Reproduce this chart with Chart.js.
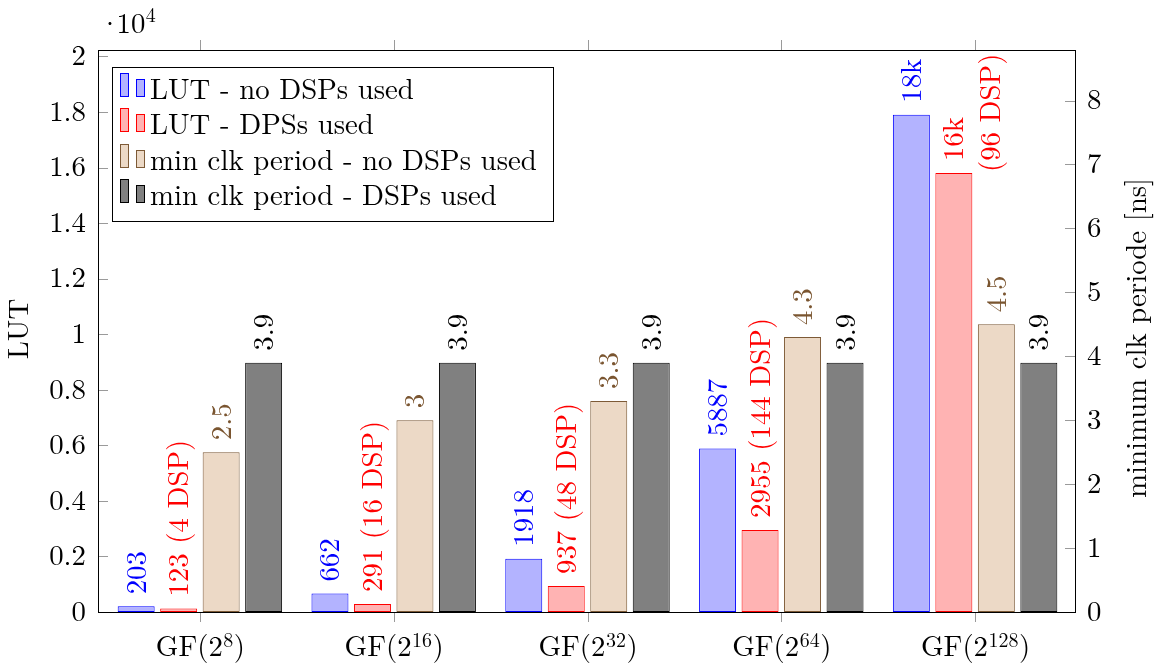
<!DOCTYPE html>
<html>
<head>
<meta charset="utf-8">
<script src="https://cdn.jsdelivr.net/npm/chart.js@4.4.1/dist/chart.umd.min.js"></script>
<style>
  html, body { margin: 0; padding: 0; background: #ffffff; }
  #wrap { width: 1154px; height: 668px; }
</style>
</head>
<body>
<div id="wrap"><canvas id="c" width="1154" height="668"></canvas></div>
<script>
// Field sizes (exponent of GF(2^n))
const fieldExponents = ['8', '16', '32', '64', '128'];

// LUT usage
const lutNoDsp = [203, 662, 1918, 5887, 17900];
const lutDsp = [123, 291, 937, 2955, 15800];
const dspCount = [4, 16, 48, 144, 96];

// Minimum clock period [ns]
const clkNoDsp = [2.5, 3, 3.3, 4.3, 4.5];
const clkDsp = [3.9, 3.9, 3.9, 3.9, 3.9];

// Axis ticks
const lutTicks = [0, 0.2, 0.4, 0.6, 0.8, 1, 1.2, 1.4, 1.6, 1.8, 2];
const clkTicks = [0, 1, 2, 3, 4, 5, 6, 7, 8];

const seriesNames = [
  'LUT - no DSPs used',
  'LUT - DPSs used',
  'min clk period - no DSPs used',
  'min clk period - DSPs used'
];

const FONT = '"Latin Modern Roman", "Liberation Serif", serif';
const FS = 28.8;
const SUP = 20;

const categories = fieldExponents.map(e => 'GF(2^' + e + ')');

function lutLabel(v) {
  return v >= 10000 ? Math.round(v / 1000) + 'k' : String(v);
}

const labelText = [
  lutNoDsp.map(v => [lutLabel(v)]),
  lutDsp.map((v, i) => v >= 10000
    ? [lutLabel(v), '(' + dspCount[i] + ' DSP)']
    : [lutLabel(v) + ' (' + dspCount[i] + ' DSP)']),
  clkNoDsp.map(v => [String(v)]),
  clkDsp.map(v => [String(v)])
];

const styles = [
  { fill: '#b3b3ff', border: '#0000ff', text: '#0000ff' },
  { fill: '#ffb3b3', border: '#ff0000', text: '#ff0000' },
  { fill: '#ecd9c6', border: '#7d5a36', text: '#7a5530' },
  { fill: '#808080', border: '#000000', text: '#000000' }
];

// frame sits a little outside the scale area (x limits are enlarged)
const FRAME_LEFT = 98, FRAME_RIGHT = 1075;

// Rotated value labels above each bar
const valueLabels = {
  id: 'valueLabels',
  afterDatasetsDraw(chart) {
    const ctx = chart.ctx;
    ctx.save();
    ctx.font = FS + 'px ' + FONT;
    chart.data.datasets.forEach((ds, di) => {
      const meta = chart.getDatasetMeta(di);
      meta.data.forEach((bar, i) => {
        const lines = labelText[di][i];
        ctx.fillStyle = styles[di].text;
        lines.forEach((line, li) => {
          ctx.save();
          ctx.translate(bar.x, bar.y - 12);
          ctx.rotate(-Math.PI / 2);
          ctx.textAlign = 'left';
          ctx.textBaseline = 'alphabetic';
          const shift = li === 0 ? 0 : -11;
          ctx.fillText(line, shift, 9.5 + li * 36.5);
          ctx.restore();
        });
      });
    });
    ctx.restore();
  }
};

// Axis frame, tick marks, titles, category labels and legend
const decorations = {
  id: 'decorations',
  afterDraw(chart) {
    const ctx = chart.ctx;
    const a = chart.chartArea;
    const ys = chart.scales.y, y1 = chart.scales.y1, xs = chart.scales.x;
    const L = FRAME_LEFT, R = FRAME_RIGHT;
    ctx.save();

    // tick marks
    ctx.strokeStyle = '#9a9a9a';
    ctx.lineWidth = 1;
    ctx.beginPath();
    lutTicks.forEach(v => {
      const p = Math.round(ys.getPixelForValue(v * 10000)) + 0.5;
      ctx.moveTo(L, p); ctx.lineTo(L + 10, p);
    });
    clkTicks.forEach(v => {
      const p = Math.round(y1.getPixelForValue(v)) + 0.5;
      ctx.moveTo(R, p); ctx.lineTo(R - 10, p);
    });
    categories.forEach((c, i) => {
      const p = Math.round(xs.getPixelForValue(i)) + 0.5;
      ctx.moveTo(p, a.bottom); ctx.lineTo(p, a.bottom + 10);
      ctx.moveTo(p, a.top); ctx.lineTo(p, a.top - 10);
    });
    ctx.stroke();

    // frame
    ctx.strokeStyle = '#000000';
    ctx.strokeRect(L + 0.5, Math.round(a.top) + 0.5, R - L, Math.round(a.bottom - a.top));

    // category labels GF(2^n)
    const base = 656;
    ctx.fillStyle = '#000000';
    ctx.textBaseline = 'alphabetic';
    ctx.textAlign = 'left';
    fieldExponents.forEach((e, i) => {
      const cx = xs.getPixelForValue(i);
      ctx.font = FS + 'px ' + FONT;
      const w1 = ctx.measureText('GF(2').width;
      const w3 = ctx.measureText(')').width;
      ctx.font = SUP + 'px ' + FONT;
      const w2 = ctx.measureText(e).width;
      const x0 = cx - (w1 + w2 + w3) / 2;
      ctx.font = FS + 'px ' + FONT;
      ctx.fillText('GF(2', x0, base);
      ctx.font = SUP + 'px ' + FONT;
      ctx.fillText(e, x0 + w1 + 0.5, base - 9.5);
      ctx.font = FS + 'px ' + FONT;
      ctx.fillText(')', x0 + w1 + w2 + 1, base);
    });

    // scale factor of the LUT axis
    ctx.font = FS + 'px ' + FONT;
    ctx.textAlign = 'center';
    ctx.fillText('\u00b7', 110, 33);
    ctx.textAlign = 'left';
    ctx.fillText('10', 116.5, 33);
    const wf = ctx.measureText('10').width;
    ctx.font = SUP + 'px ' + FONT;
    ctx.fillText('4', 116.5 + wf + 0.5, 22);

    // axis titles
    ctx.font = FS + 'px ' + FONT;
    ctx.textAlign = 'center';
    ctx.save();
    ctx.translate(28, (a.top + a.bottom) / 2 - 2);
    ctx.rotate(-Math.PI / 2);
    ctx.fillText('LUT', 0, 0);
    ctx.restore();
    ctx.save();
    ctx.translate(1146, (a.top + a.bottom) / 2 + 7);
    ctx.rotate(-Math.PI / 2);
    ctx.fillText('minimum clk periode [ns]', 0, 0);
    ctx.restore();

    // legend
    const lx = 112, ly = 67, lw = 441, lh = 154;
    ctx.fillStyle = '#ffffff';
    ctx.fillRect(lx, ly, lw, lh);
    ctx.strokeStyle = '#000000';
    ctx.strokeRect(lx + 0.5, ly + 0.5, lw, lh);
    ctx.textAlign = 'left';
    chart.data.datasets.forEach((ds, di) => {
      const bottom = Math.round(97 + di * 35.3);
      ctx.fillStyle = ds.backgroundColor;
      ctx.strokeStyle = ds.borderColor;
      ctx.fillRect(120, bottom - 24, 8, 24);
      ctx.strokeRect(120.5, bottom - 23.5, 8, 23);
      ctx.fillRect(136, bottom - 18, 8, 18);
      ctx.strokeRect(136.5, bottom - 17.5, 8, 17);
      ctx.fillStyle = '#000000';
      ctx.font = FS + 'px ' + FONT;
      ctx.fillText(ds.label, 150, bottom + 2);
    });

    ctx.restore();
  }
};

const datasetValues = [lutNoDsp, lutDsp, clkNoDsp, clkDsp];
const axisIds = ['y', 'y', 'y1', 'y1'];

new Chart(document.getElementById('c'), {
  type: 'bar',
  data: {
    labels: categories,
    datasets: datasetValues.map((vals, di) => ({
      label: seriesNames[di],
      data: vals,
      yAxisID: axisIds[di],
      backgroundColor: styles[di].fill,
      borderColor: styles[di].border,
      borderWidth: 1,
      borderSkipped: false,
      categoryPercentage: 0.877,
      barPercentage: 0.87
    }))
  },
  options: {
    responsive: false,
    animation: false,
    layout: { padding: { top: 50, left: 0, right: 0, bottom: 0 } },
    plugins: {
      legend: { display: false },
      tooltip: { enabled: false }
    },
    scales: {
      x: {
        type: 'category',
        offset: true,
        grid: { display: false, drawTicks: false },
        border: { display: false },
        ticks: { display: false },
        afterFit(s) { s.height = 56; }
      },
      y: {
        position: 'left',
        min: 0,
        max: 2.023 * 10000,
        grid: { display: false, drawTicks: false },
        border: { display: false },
        afterBuildTicks(s) { s.ticks = lutTicks.map(v => ({ value: v * 10000 })); },
        ticks: {
          padding: 17,
          color: '#000000',
          font: { family: FONT, size: FS },
          callback: (v) => String(Math.round(v / 1000) / 10)
        },
        afterFit(s) { s.width = 103; }
      },
      y1: {
        position: 'right',
        min: 0,
        max: 8.79,
        grid: { display: false, drawTicks: false },
        border: { display: false },
        afterBuildTicks(s) { s.ticks = clkTicks.map(v => ({ value: v })); },
        ticks: {
          padding: 15,
          color: '#000000',
          font: { family: FONT, size: FS },
          callback: (v) => String(v)
        },
        afterFit(s) { s.width = 82; }
      }
    }
  },
  plugins: [valueLabels, decorations]
});
</script>
</body>
</html>
